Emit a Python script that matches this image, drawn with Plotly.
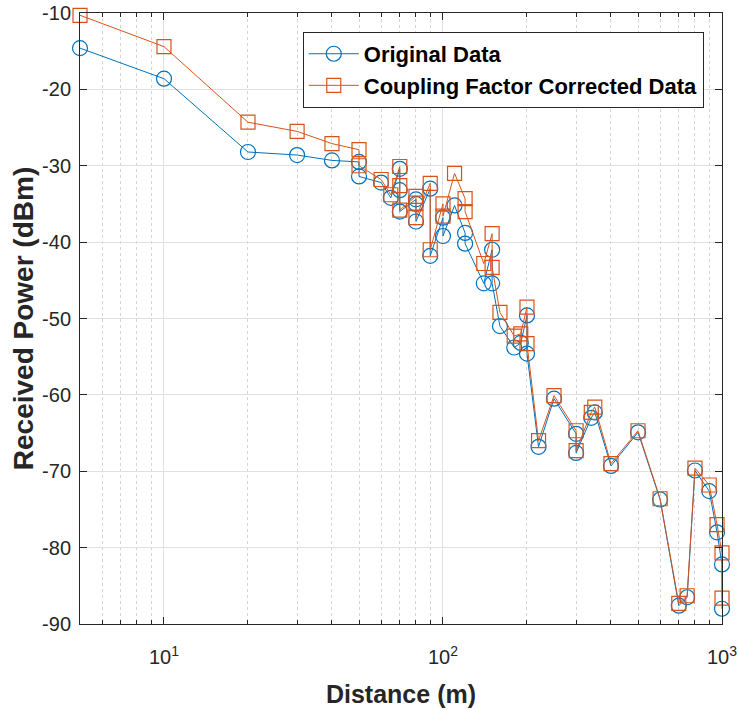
import plotly.graph_objects as go

# Distance (m)
distance = [5, 10, 20, 30, 40, 50, 50, 60, 65, 70, 70, 70, 80, 80, 80, 90, 90,
            100, 100, 110, 120, 120, 140, 150, 150, 160, 180, 190, 200, 200,
            220, 250, 300, 300, 340, 350, 400, 500, 600, 700, 750, 800, 900,
            960, 1000, 1000]

original = [-14.6, -18.6, -28.2, -28.6, -29.3, -29.5, -31.4, -32.2, -34.2,
            -30.4, -33.2, -36.0, -34.4, -35.0, -37.3, -33.0, -41.8,
            -36.8, -39.2, -35.2, -38.8, -40.2, -45.4, -41.0, -45.4,
            -51.0, -53.8, -53.2, -49.6, -54.6,
            -66.8, -60.5, -65.1, -67.6, -63.0, -62.3, -69.3, -64.9, -73.7,
            -87.6, -86.5, -69.9, -72.6, -78.0, -82.2, -88.0]

corrected = [-10.3, -14.4, -24.3, -25.5, -27.1, -27.9, -30.0, -31.8, -33.8,
             -30.1, -32.6, -35.8, -34.0, -34.9, -36.8, -32.3, -41.0,
             -35.0, -36.6, -31.0, -34.3, -36.0, -42.8, -38.9, -43.3,
             -49.2, -52.3, -52.0, -48.5, -53.3,
             -66.0, -60.1, -64.7, -67.3, -62.3, -61.6, -69.0, -64.7, -73.6,
             -87.3, -86.3, -69.6, -71.8, -77.0, -80.7, -86.6]

x_tick_vals = [10, 100, 1000]
x_tick_text = ["10<sup>1</sup>", "10<sup>2</sup>", "10<sup>3</sup>"]
y_tick_vals = [-90, -80, -70, -60, -50, -40, -30, -20, -10]
y_tick_text = ["-90", "-80", "-70", "-60", "-50", "-40", "-30", "-20", "-10"]

BLUE = "#0072BD"
ORANGE = "#D95319"
AX = "#262626"
FONT = "Liberation Sans, Arial, sans-serif"

minor_vals = [m * 10 ** e for e in range(0, 3) for m in range(2, 10) if m * 10 ** e > 5]

fig = go.Figure()
fig.add_trace(go.Scatter(
    x=distance, y=original, mode="lines+markers", name="Original Data",
    line=dict(color=BLUE, width=1),
    marker=dict(symbol="circle-open", size=15, color=BLUE, line=dict(width=1.2, color=BLUE)),
    cliponaxis=False,
))
fig.add_trace(go.Scatter(
    x=distance, y=corrected, mode="lines+markers", name="Coupling Factor Corrected Data",
    line=dict(color=ORANGE, width=1),
    marker=dict(symbol="square-open", size=14, color=ORANGE, line=dict(width=1.2, color=ORANGE)),
    cliponaxis=False,
))

fig.update_layout(
    width=738, height=710,
    margin=dict(l=80, r=16, t=13, b=86),
    paper_bgcolor="white", plot_bgcolor="white",
    font=dict(family=FONT, size=19, color=AX),
    showlegend=True,
    legend=dict(
        x=0.347, y=0.969, xanchor="left", yanchor="top",
        bgcolor="white", bordercolor=AX, borderwidth=1,
        font=dict(family=FONT, size=22, color="black", weight="bold"),
        tracegroupgap=0, itemwidth=50,
    ),
    xaxis=dict(
        type="log", range=[0.69897, 3.0], automargin=False,
        tickmode="array", tickvals=x_tick_vals, ticktext=x_tick_text,
        ticks="inside", ticklen=7, tickcolor=AX, tickwidth=1,
        showline=True, linecolor=AX, linewidth=1, mirror="allticks",
        showgrid=True, gridcolor="#e0e0e0", gridwidth=1,
        zeroline=False, ticklabelstandoff=15, ticklabeloverflow="allow",
        tickfont=dict(family=FONT, size=20, color=AX),
        minor=dict(tickmode="array", tickvals=minor_vals, ticks="inside", ticklen=4,
                   tickcolor=AX, showgrid=True, gridcolor="#d4d4d4", griddash="dot", gridwidth=1),
        title=dict(text="Distance (m)", font=dict(family=FONT, size=25, color=AX, weight="bold"), standoff=18),
    ),
    yaxis=dict(
        range=[-90, -10], automargin=False,
        tickmode="array", tickvals=y_tick_vals, ticktext=y_tick_text,
        ticks="inside", ticklen=7, tickcolor=AX, tickwidth=1,
        showline=True, linecolor=AX, linewidth=1, mirror="allticks",
        showgrid=True, gridcolor="#e0e0e0", gridwidth=1,
        zeroline=False, ticklabelstandoff=4, ticklabeloverflow="allow",
        tickfont=dict(family=FONT, size=20, color=AX),
        title=dict(text="Received Power (dBm)", font=dict(family=FONT, size=28, color=AX, weight="bold"), standoff=0),
    ),
)

fig.write_html("out.html", config={"displayModeBar": False},
               post_script="document.body.style.margin='0';")
